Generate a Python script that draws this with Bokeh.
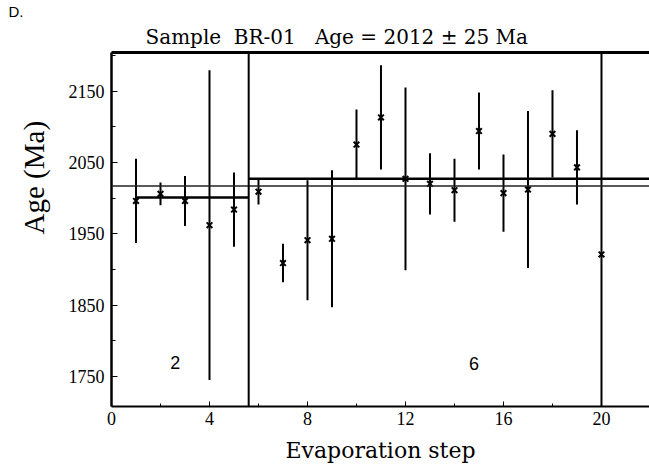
from bokeh.plotting import figure
from bokeh.models import Range1d, FixedTicker, LinearAxis, Span, Title, ColumnDataSource
from bokeh.embed import file_html
from bokeh.resources import INLINE
from bokeh.core.properties import value

# ---- data ----
steps = [1, 2, 3, 4, 5, 6, 7, 8, 9, 10, 11, 12, 13, 14, 15, 16, 17, 18, 19, 20]
ages = [1996, 2006, 1996, 1962, 1984, 2009, 1909, 1941, 1943, 2075,
        2113, 2027, 2020, 2011, 2094, 2007, 2012, 2090, 2043, 1921]
errors = [59, 16, 35, 217, 52, 18, 27, 84, 96, 49,
          73, 128, 43, 44, 54, 54, 110, 61, 52, 400]

overall_age = 2017            # horizontal line across both groups
divider_step = 5.6            # boundary between group 2 and group 6
group_x0 = [1, 5.6]
group_x1 = [5.6, 22]
group_mean = [2001, 2027]
group_labels = ["2", "6"]
group_label_x = [2.6, 14.8]
group_label_y = [1770, 1768]

x_major = [0, 4, 8, 12, 16, 20]
x_minor = [2, 6, 10, 14, 18]
y_major = [1750, 1850, 1950, 2050, 2150]
y_minor = [1700, 1750, 1800, 1850, 1900, 1950, 2000, 2050, 2100, 2150, 2200]

title_text = "Sample\u00a0 BR-01\u00a0\u00a0 Age = 2012 \u00b1 25 Ma"
panel_tag = "D."
x_title = "Evaporation step"
y_title = "Age (Ma)"

SERIF = "Liberation Serif"
WIDE_SERIF = "DejaVu Serif"

p = figure(width=649, height=465, output_backend="svg", toolbar_location=None,
           title=None,
           x_range=Range1d(0, 21.96), y_range=Range1d(1708, 2204),
           min_border_left=111, min_border_right=0, min_border_top=52,
           min_border_bottom=58)
p.outline_line_color = None
p.xgrid.visible = False
p.ygrid.visible = False
p.background_fill_color = "white"
p.border_fill_color = "white"

src = ColumnDataSource(dict(
    step=steps, age=ages,
    lo=[a - e for a, e in zip(ages, errors)],
    hi=[a + e for a, e in zip(ages, errors)],
))

# reference lines
p.add_layout(Span(location=overall_age, dimension="width", line_color="#222222",
                  line_width=1.5))
p.add_layout(Span(location=divider_step, dimension="height", line_color="black",
                  line_width=2))
p.segment(x0=group_x0, y0=group_mean, x1=group_x1, y1=group_mean,
          line_color="black", line_width=2.5)

# error bars and points
p.segment(x0="step", y0="lo", x1="step", y1="hi", source=src,
          line_color="black", line_width=2)
p.scatter(x="step", y="age", source=src, marker="x", size=8,
          line_color="black", line_width=2)

# group labels
p.text(x=group_label_x, y=group_label_y, text=group_labels,
       text_font=value("Liberation Sans"), text_font_size="18px",
       text_align="center", text_baseline="middle", text_color="black")

# axes
xa = p.xaxis[0]
xa.ticker = FixedTicker(ticks=x_major, minor_ticks=x_minor)
xa.axis_label = x_title
xa.axis_label_text_font = WIDE_SERIF
xa.axis_label_text_font_size = "22px"
xa.axis_label_text_font_style = "normal"
xa.axis_label_text_color = "black"
xa.axis_label_standoff = 10
xa.major_label_text_font = SERIF
xa.major_label_text_font_size = "18px"
xa.major_label_text_color = "black"
xa.major_label_standoff = 5
xa.major_tick_in = 5
xa.major_tick_out = 0
xa.minor_tick_in = 3
xa.minor_tick_out = 0
xa.axis_line_width = 2

ya = p.yaxis[0]
ya.ticker = FixedTicker(ticks=y_major, minor_ticks=y_minor)
ya.major_label_text_font = SERIF
ya.major_label_text_font_size = "18px"
ya.major_label_text_color = "black"
ya.major_label_standoff = 7
ya.major_tick_in = 6
ya.major_tick_out = 0
ya.minor_tick_in = 4
ya.minor_tick_out = 0
ya.axis_line_width = 2.5

top = LinearAxis(ticker=FixedTicker(ticks=[], minor_ticks=[]),
                 major_tick_in=0, major_tick_out=0, minor_tick_in=0,
                 minor_tick_out=0, axis_line_width=3, major_label_standoff=0,
                 axis_label_standoff=0)
p.add_layout(top, "above")

# titles
p.add_layout(Title(text=title_text, align="left", offset=34,
                   text_font=WIDE_SERIF, text_font_size="20px",
                   text_font_style="normal", text_color="black", standoff=7),
             "above")
p.add_layout(Title(text=panel_tag, align="left", offset=-103,
                   text_font="Liberation Sans", text_font_size="15px",
                   text_font_style="normal", text_color="black", standoff=0),
             "above")
p.add_layout(Title(text=y_title, align="left", offset=172,
                   text_font=SERIF, text_font_size="29px",
                   text_font_style="normal", text_color="black", standoff=31),
             "left")

open("out.html", "w").write(file_html(p, INLINE))
